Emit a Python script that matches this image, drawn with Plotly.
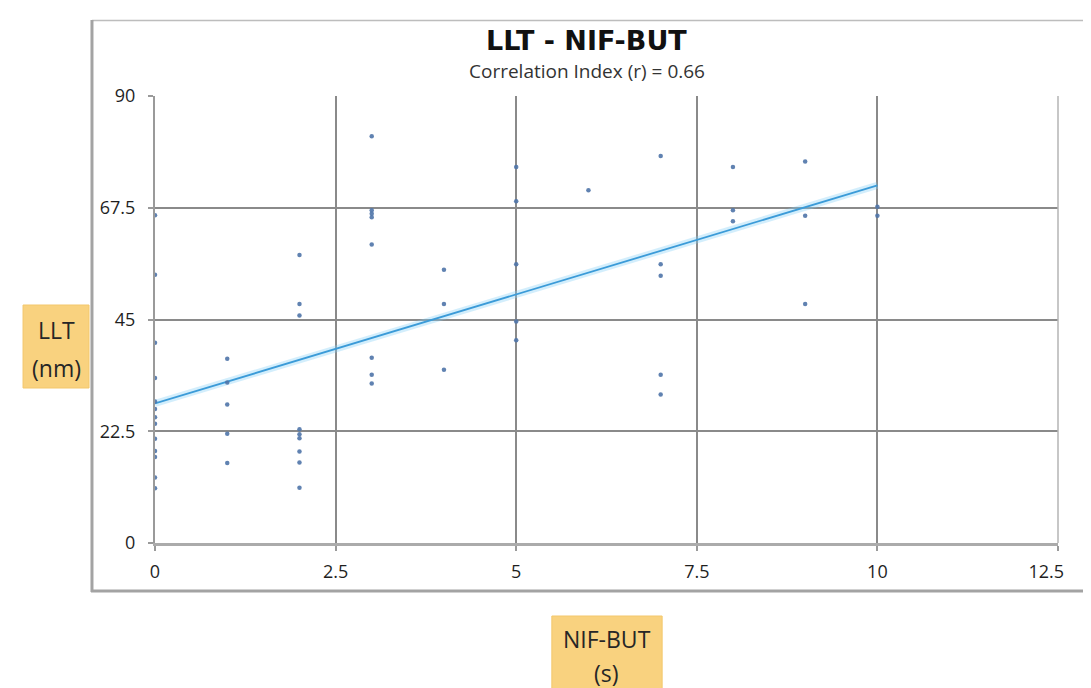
import plotly.graph_objects as go

# ---- data ----
nif_but = ([0] * 13 + [1] * 5 + [2] * 9 + [3] * 8 + [4] * 3 + [5] * 5 +
           [6] * 1 + [7] * 5 + [8] * 3 + [9] * 3 + [10] * 2)
llt = [66, 54, 40.3, 33.2, 28.5, 27, 25.3, 24, 21, 18.5, 17.3, 13.2, 11,      # x=0
       37.1, 32.3, 27.9, 22.0, 16.1,                                            # x=1
       58, 48.1, 45.8, 22.9, 21.9, 21.1, 18.4, 16.2, 11.1,                       # x=2
       81.9, 67.0, 66.3, 65.6, 60.1, 37.3, 33.9, 32.1,                           # x=3
       55.0, 48.1, 34.9,                                                        # x=4
       75.7, 68.8, 56.1, 44.6, 40.8,                                            # x=5
       71.0,                                                                    # x=6
       77.9, 56.1, 53.8, 33.9, 29.9,                                            # x=7
       75.7, 67.0, 64.8,                                                        # x=8
       76.8, 65.9, 48.1,                                                        # x=9
       67.7, 65.9]                                                              # x=10

trend_x = [0, 10]
trend_y = [28.1, 72.0]

x_ticks = [0, 2.5, 5, 7.5, 10, 12.5]
x_ticktext = ["0", "2.5", "5", "7.5", "10", "12.5\u00a0\u00a0\u00a0\u00a0\u00a0"]
y_ticks = [0, 22.5, 45, 67.5, 90]
y_ticktext = ["0", "22.5", "45", "67.5", "90"]

title_text = "LLT - NIF-BUT"
subtitle_text = "Correlation Index (r) = 0.66"
y_label = ["LLT", "(nm)"]
x_label = ["NIF-BUT", "(s)"]

# ---- figure ----
W, H = 1091, 688
L, R, T, B = 147, 1091 - 1064, 88, 688 - 535
pw, ph = W - L - R, H - T - B


def px(xp):
    return (xp - L) / pw


def py(yp):
    return (H - B - yp) / ph


fig = go.Figure()

fig.add_trace(go.Scatter(
    x=trend_x, y=trend_y, mode="lines",
    line=dict(color="rgba(130,205,245,0.35)", width=7),
    hoverinfo="skip", showlegend=False))
fig.add_trace(go.Scatter(
    x=trend_x, y=trend_y, mode="lines",
    line=dict(color="#3b9bd8", width=1.8),
    showlegend=False))
fig.add_trace(go.Scatter(
    x=nif_but, y=llt, mode="markers",
    marker=dict(color="#4f74a8", size=4.5, opacity=0.9),
    showlegend=False))

tick_font = dict(family="Open Sans", size=18, color="#1f1f1f")
label_font = dict(family="Open Sans", size=23, color="#262626")

fig.update_xaxes(
    range=[0, 12.5], tickvals=x_ticks, ticktext=x_ticktext,
    showgrid=True, gridcolor="#8a8a8a", gridwidth=1.5,
    zeroline=False, showline=True, linecolor="#ababab", linewidth=2.5,
    ticks="outside", ticklen=5, tickcolor="#9a9a9a", tickwidth=1.5,
    tickfont=tick_font, ticklabelstandoff=6, ticklabeloverflow="allow")
fig.update_yaxes(
    range=[0, 90], tickvals=y_ticks, ticktext=y_ticktext,
    showgrid=True, gridcolor="#8a8a8a", gridwidth=1.5,
    zeroline=False, showline=True, linecolor="#9a9a9a", linewidth=2,
    ticks="outside", ticklen=5, tickcolor="#9a9a9a", tickwidth=1.5,
    tickfont=tick_font, ticklabelstandoff=9)

shapes = [
    # chart frame
    dict(type="line", xref="paper", yref="paper", x0=px(83), x1=px(1095),
         y0=py(12.5), y1=py(12.5), line=dict(color="#bdbdbd", width=1.5)),
    dict(type="line", xref="paper", yref="paper", x0=px(83), x1=px(83),
         y0=py(12), y1=py(584), line=dict(color="#a3a3a3", width=3)),
    dict(type="line", xref="paper", yref="paper", x0=px(82), x1=px(1095),
         y0=py(583), y1=py(583), line=dict(color="#a3a3a3", width=3)),
    # right border of plot area
    dict(type="line", xref="paper", yref="paper", x0=1, x1=1,
         y0=0, y1=1, line=dict(color="#b5b5b5", width=1.5)),
    # label boxes
    dict(type="rect", xref="paper", yref="paper", x0=px(13), x1=px(80),
         y0=py(380), y1=py(297), fillcolor="#f9d27f",
         line=dict(color="#f3c76c", width=1), layer="below"),
    dict(type="rect", xref="paper", yref="paper", x0=px(550), x1=px(662),
         y0=py(700), y1=py(608), fillcolor="#f9d27f",
         line=dict(color="#f3c76c", width=1), layer="below"),
]

annotations = [
    dict(text=title_text, x=px(585), y=py(33), xref="paper", yref="paper",
         showarrow=False, xanchor="center", yanchor="middle",
         font=dict(family="DejaVu Sans", size=27, color="#111111", weight="bold")),
    dict(text=subtitle_text, x=px(586), y=py(63), xref="paper", yref="paper",
         showarrow=False, xanchor="center", yanchor="middle",
         font=dict(family="Open Sans", size=19, color="#333333")),
    dict(text=y_label[0], x=px(46.5), y=py(322), xref="paper", yref="paper",
         showarrow=False, xanchor="center", yanchor="middle", font=label_font),
    dict(text=y_label[1], x=px(46.5), y=py(360), xref="paper", yref="paper",
         showarrow=False, xanchor="center", yanchor="middle", font=label_font),
    dict(text=x_label[0], x=px(606), y=py(631), xref="paper", yref="paper",
         showarrow=False, xanchor="center", yanchor="middle", font=label_font),
    dict(text=x_label[1], x=px(606), y=py(665), xref="paper", yref="paper",
         showarrow=False, xanchor="center", yanchor="middle", font=label_font),
]

fig.update_layout(
    width=W, height=H, autosize=False,
    margin=dict(l=L, r=R, t=T, b=B, pad=0),
    paper_bgcolor="white", plot_bgcolor="white",
    shapes=shapes, annotations=annotations,
    showlegend=False,
)

fig.write_html("out.html")
